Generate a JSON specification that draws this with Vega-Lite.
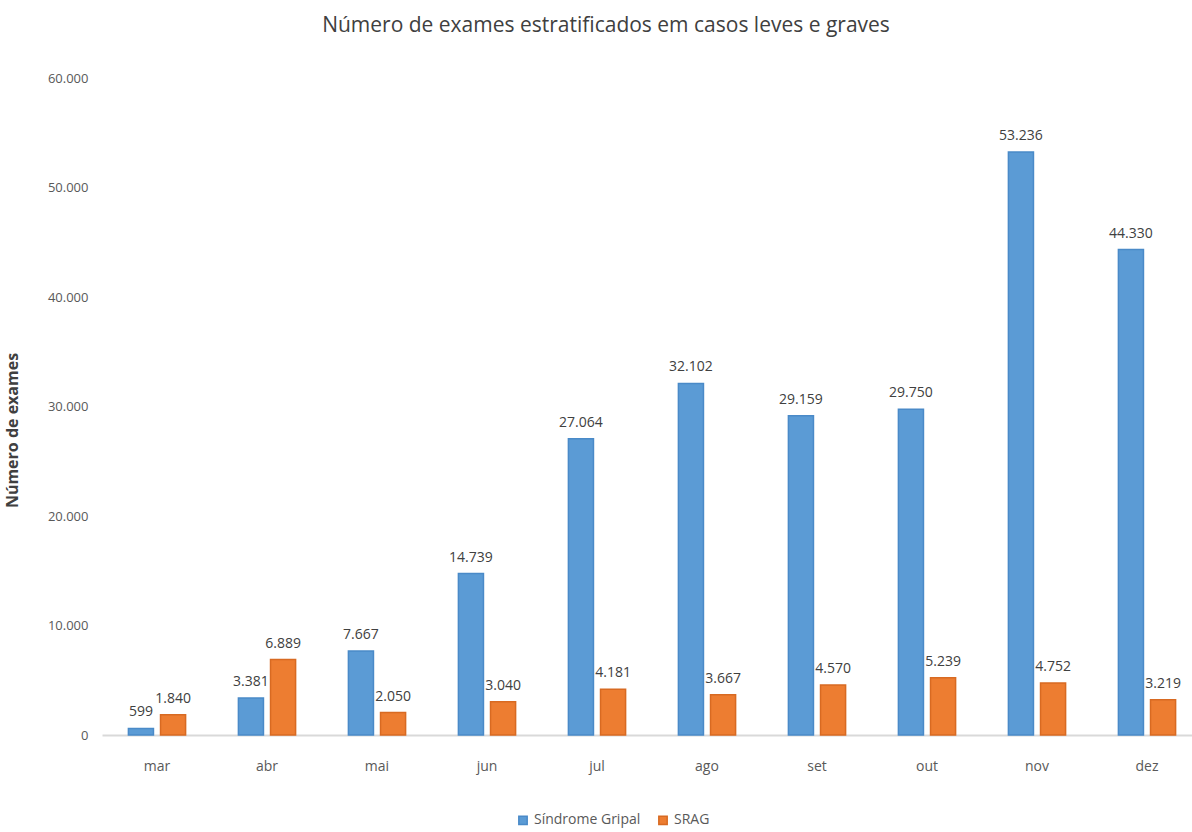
{
  "$schema": "https://vega.github.io/schema/vega-lite/v6.json",
  "autosize": {"type": "none"},
  "width": 1100,
  "height": 657,
  "padding": {"left": 102, "top": 78, "right": 0, "bottom": 97},
  "background": "white",
  "title": {
    "text": "Número de exames estratificados em casos leves e graves",
    "fontSize": 21,
    "font": "Open Sans, sans-serif",
    "fontWeight": "normal",
    "color": "#404040",
    "anchor": "middle",
    "dx": -46,
    "offset": 36
  },
  "config": {
    "locale": {
      "number": {"decimal": ",", "thousands": ".", "grouping": [3], "currency": ["R$", ""]}
    },
    "view": {"stroke": null},
    "font": "Open Sans, sans-serif"
  },
  "data": {
    "values": [
      {"mes": "mar", "ordem": 1, "serie": "Síndrome Gripal", "exames": 599},
      {"mes": "mar", "ordem": 1, "serie": "SRAG", "exames": 1840},
      {"mes": "abr", "ordem": 2, "serie": "Síndrome Gripal", "exames": 3381},
      {"mes": "abr", "ordem": 2, "serie": "SRAG", "exames": 6889},
      {"mes": "mai", "ordem": 3, "serie": "Síndrome Gripal", "exames": 7667},
      {"mes": "mai", "ordem": 3, "serie": "SRAG", "exames": 2050},
      {"mes": "jun", "ordem": 4, "serie": "Síndrome Gripal", "exames": 14739},
      {"mes": "jun", "ordem": 4, "serie": "SRAG", "exames": 3040},
      {"mes": "jul", "ordem": 5, "serie": "Síndrome Gripal", "exames": 27064},
      {"mes": "jul", "ordem": 5, "serie": "SRAG", "exames": 4181},
      {"mes": "ago", "ordem": 6, "serie": "Síndrome Gripal", "exames": 32102},
      {"mes": "ago", "ordem": 6, "serie": "SRAG", "exames": 3667},
      {"mes": "set", "ordem": 7, "serie": "Síndrome Gripal", "exames": 29159},
      {"mes": "set", "ordem": 7, "serie": "SRAG", "exames": 4570},
      {"mes": "out", "ordem": 8, "serie": "Síndrome Gripal", "exames": 29750},
      {"mes": "out", "ordem": 8, "serie": "SRAG", "exames": 5239},
      {"mes": "nov", "ordem": 9, "serie": "Síndrome Gripal", "exames": 53236},
      {"mes": "nov", "ordem": 9, "serie": "SRAG", "exames": 4752},
      {"mes": "dez", "ordem": 10, "serie": "Síndrome Gripal", "exames": 44330},
      {"mes": "dez", "ordem": 10, "serie": "SRAG", "exames": 3219}
    ]
  },
  "encoding": {
    "x": {
      "field": "mes",
      "type": "nominal",
      "sort": {"field": "ordem"},
      "scale": {"paddingInner": 0.48, "paddingOuter": 0.24},
      "axis": {
        "title": null,
        "labelAngle": 0,
        "labelFontSize": 14,
        "labelColor": "#595959",
        "labelPadding": 24,
        "ticks": false,
        "domainColor": "#d9d9d9",
        "domainWidth": 2,
        "grid": false
      }
    },
    "xOffset": {
      "field": "serie",
      "type": "nominal",
      "sort": ["Síndrome Gripal", "SRAG"],
      "scale": {"paddingInner": 0.22, "paddingOuter": 0}
    },
    "y": {
      "field": "exames",
      "type": "quantitative",
      "scale": {"domain": [0, 60000], "nice": false},
      "axis": {
        "title": "Número de exames",
        "titleFontSize": 16,
        "titleFontWeight": "bold",
        "titleColor": "#404040",
        "titleX": -82,
        "titleY": 352,
        "titleAngle": 270,
        "values": [0, 10000, 20000, 30000, 40000, 50000, 60000],
        "format": ",d",
        "labelFontSize": 13,
        "labelColor": "#595959",
        "labelPadding": 14,
        "ticks": false,
        "domain": false,
        "grid": false
      }
    },
    "color": {
      "field": "serie",
      "type": "nominal",
      "scale": {"domain": ["Síndrome Gripal", "SRAG"], "range": ["#5B9BD5", "#ED7D31"]},
      "legend": {
        "title": null,
        "orient": "none",
        "direction": "horizontal",
        "legendX": 414,
        "legendY": 735,
        "symbolType": "square",
        "symbolSize": 70,
        "labelFontSize": 14,
        "labelColor": "#595959",
        "labelOffset": 4,
        "columnPadding": 14
      }
    }
  },
  "layer": [
    {
      "mark": {"type": "bar", "strokeWidth": 1.5},
      "encoding": {
        "stroke": {
          "field": "serie",
          "type": "nominal",
          "scale": {"domain": ["Síndrome Gripal", "SRAG"], "range": ["#4A8AC8", "#D86A22"]},
          "legend": null
        }
      }
    },
    {
      "mark": {"type": "text", "baseline": "bottom", "dy": -9, "fontSize": 14, "color": "#404040"},
      "encoding": {
        "text": {"field": "exames", "type": "quantitative", "format": ",d"},
        "color": {"value": "#404040"}
      }
    }
  ]
}
